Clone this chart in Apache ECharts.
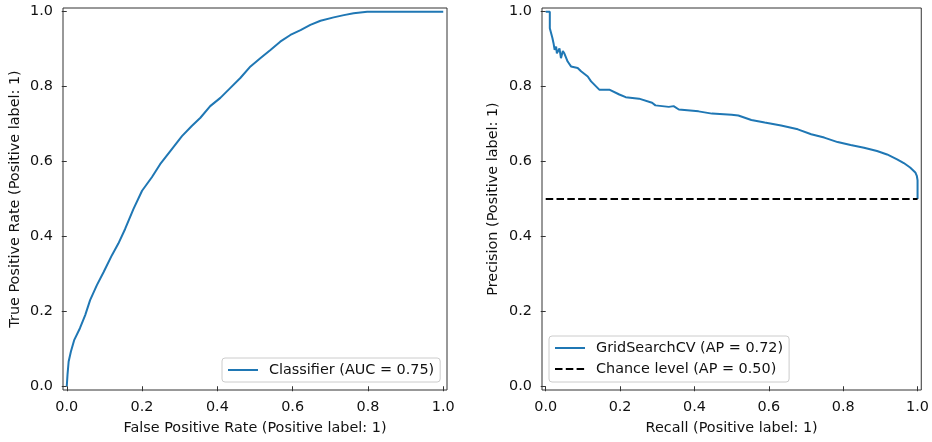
<!DOCTYPE html>
<html>
<head>
<meta charset="utf-8">
<script src="https://cdn.jsdelivr.net/npm/echarts@6/dist/echarts.min.js"></script>
<style>
html,body{margin:0;padding:0;background:#fff;}
#chart{width:932px;height:442px;}
</style>
</head>
<body>
<div id="chart"></div>
<script>
// ROC curve (left panel)
const rocFpr = [0, 0.002, 0.005, 0.011, 0.02, 0.035, 0.049, 0.062, 0.08, 0.098, 0.12, 0.137, 0.155, 0.177, 0.2, 0.226, 0.248, 0.275, 0.306, 0.332, 0.355, 0.381, 0.408, 0.434, 0.461, 0.488, 0.514, 0.541, 0.567, 0.594, 0.621, 0.647, 0.674, 0.709, 0.736, 0.762, 0.798, 1.0];
const rocTpr = [0, 0.031, 0.066, 0.093, 0.124, 0.155, 0.19, 0.23, 0.27, 0.305, 0.35, 0.381, 0.42, 0.473, 0.522, 0.558, 0.593, 0.628, 0.668, 0.695, 0.717, 0.748, 0.77, 0.796, 0.823, 0.854, 0.876, 0.898, 0.92, 0.938, 0.951, 0.965, 0.976, 0.985, 0.991, 0.996, 1.0, 1.0];
// Precision-recall curve (right panel)
const prRecall = [0, 0.011, 0.011, 0.016, 0.018, 0.021, 0.024, 0.028, 0.03, 0.037, 0.041, 0.046, 0.05, 0.059, 0.068, 0.086, 0.095, 0.113, 0.122, 0.144, 0.171, 0.198, 0.215, 0.251, 0.286, 0.295, 0.331, 0.344, 0.358, 0.411, 0.447, 0.5, 0.518, 0.553, 0.589, 0.633, 0.678, 0.714, 0.749, 0.785, 0.82, 0.856, 0.891, 0.918, 0.945, 0.963, 0.98, 0.994, 0.998, 1.0, 1.0];
const prPrecision = [1.0, 1.0, 0.956, 0.955, 0.93, 0.916, 0.898, 0.907, 0.889, 0.902, 0.876, 0.895, 0.889, 0.867, 0.854, 0.85, 0.841, 0.827, 0.814, 0.792, 0.792, 0.779, 0.772, 0.768, 0.757, 0.75, 0.746, 0.748, 0.739, 0.734, 0.728, 0.725, 0.723, 0.711, 0.704, 0.696, 0.686, 0.673, 0.664, 0.652, 0.644, 0.637, 0.628, 0.619, 0.606, 0.596, 0.584, 0.571, 0.562, 0.55, 0.5];
// Chance level
const chanceRecall = [0, 1];
const chancePrecision = [0.5, 0.5];
// Tick labels
const ticks = [0, 0.2, 0.4, 0.6, 0.8, 1.0];

const names = {
  roc: 'Classifier (AUC = 0.75)',
  pr: 'GridSearchCV (AP = 0.72)',
  chance: 'Chance level (AP = 0.50)'
};

const FONT = 'DejaVu Sans';
const FS = 14.4;
const zip = (a, b) => a.map((v, i) => [v, b[i]]);

function valAxis(gridIndex, name, gap) {
  return {
    type: 'value', gridIndex, min: -0.01, max: 1.01,
    name, nameLocation: 'middle', nameGap: gap,
    nameTextStyle: {fontFamily: FONT, fontSize: FS, color: '#111'},
    axisLine: {show: false},
    axisTick: {show: true, length: 5, lineStyle: {color: '#333', width: 1}, customValues: ticks},
    axisLabel: {fontFamily: FONT, fontSize: FS, color: '#111', margin: 10, customValues: ticks,
      formatter: v => Number(v).toFixed(1)},
    splitLine: {show: false}
  };
}

const legendBase = {
  orient: 'vertical', itemWidth: 30, itemHeight: 14,
  borderColor: '#cccccc', borderWidth: 1, borderRadius: 3, backgroundColor: 'rgba(255,255,255,0.8)',
  itemStyle: {opacity: 0},
  textStyle: {fontFamily: FONT, fontSize: FS, color: '#111', padding: [0, 0, 0, 6]},
  selectedMode: false
};

const chart = echarts.init(document.getElementById('chart'), null, {renderer: 'canvas'});
chart.setOption({
  animation: false,
  backgroundColor: '#fff',
  grid: [
    {left: 63, top: 8, width: 384, height: 382, show: true, borderColor: '#333', borderWidth: 1, backgroundColor: 'transparent'},
    {left: 542, top: 8, width: 383, height: 382, show: true, borderColor: '#333', borderWidth: 1, backgroundColor: 'transparent'}
  ],
  xAxis: [
    valAxis(0, 'False Positive Rate (Positive label: 1)', 31),
    valAxis(1, 'Recall (Positive label: 1)', 31)
  ],
  yAxis: [
    valAxis(0, 'True Positive Rate (Positive label: 1)', 41),
    valAxis(1, 'Precision (Positive label: 1)', 42)
  ],
  legend: [
    Object.assign({}, legendBase, {data: [names.roc], left: 222, top: 358, padding: [5, 6, 5, 5]}),
    Object.assign({}, legendBase, {data: [names.pr, names.chance], left: 549, top: 336, itemGap: 7, padding: [5, 6, 6, 5]})
  ],
  series: [
    {
      name: names.roc, type: 'line', xAxisIndex: 0, yAxisIndex: 0,
      data: zip(rocFpr, rocTpr), symbol: 'none', showSymbol: false,
      lineStyle: {color: '#1f77b4', width: 2}, itemStyle: {color: '#1f77b4'}
    },
    {
      name: names.pr, type: 'line', xAxisIndex: 1, yAxisIndex: 1,
      data: zip(prRecall, prPrecision), symbol: 'none', showSymbol: false,
      lineStyle: {color: '#1f77b4', width: 2}, itemStyle: {color: '#1f77b4'}
    },
    {
      name: names.chance, type: 'line', xAxisIndex: 1, yAxisIndex: 1,
      data: zip(chanceRecall, chancePrecision), symbol: 'none', showSymbol: false,
      lineStyle: {color: '#000', width: 2, type: [7.5, 3.3]}, itemStyle: {color: '#000'}
    }
  ]
});
</script>
</body>
</html>
